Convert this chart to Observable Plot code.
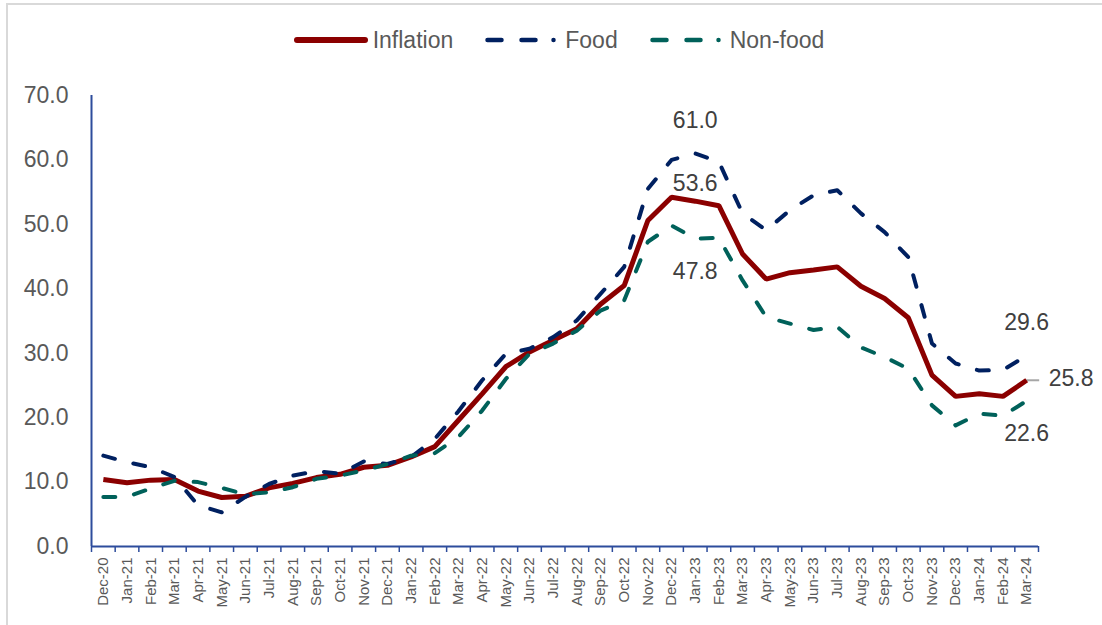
<!DOCTYPE html>
<html>
<head>
<meta charset="utf-8">
<script src="https://cdn.jsdelivr.net/npm/d3@7"></script>
<script src="https://cdn.jsdelivr.net/npm/@observablehq/plot@0.6"></script>
<style>
  html, body { margin: 0; padding: 0; background: #fff; }
  #page { position: relative; width: 1102px; height: 625px; overflow: hidden; background: #fff;
          font-family: "Liberation Sans", Arial, sans-serif; }
  #frame { position: absolute; left: 6px; top: 3px; right: -4px; bottom: -4px;
           border-left: 2px solid #d9d9d9; border-top: 2px solid #d9d9d9; }
  #legend { position: absolute; left: 0; top: 0; width: 1102px; height: 80px; box-sizing: border-box;
            padding-left: 16px; display: flex; align-items: center; justify-content: center;
            font-size: 23px; color: #595959; }
  #legend svg { display: block; }
  #chart { position: absolute; left: 0; top: 75px; }
</style>
</head>
<body>
<div id="page">
  <div id="frame"></div>
  <div id="legend"></div>
  <div id="chart"></div>
</div>
<script>
// ---- data ----
const months = ["Dec-20","Jan-21","Feb-21","Mar-21","Apr-21","May-21","Jun-21","Jul-21","Aug-21","Sep-21",
  "Oct-21","Nov-21","Dec-21","Jan-22","Feb-22","Mar-22","Apr-22","May-22","Jun-22","Jul-22",
  "Aug-22","Sep-22","Oct-22","Nov-22","Dec-22","Jan-23","Feb-23","Mar-23","Apr-23","May-23",
  "Jun-23","Jul-23","Aug-23","Sep-23","Oct-23","Nov-23","Dec-23","Jan-24","Feb-24","Mar-24"];
const inflation = [10.4, 9.9, 10.3, 10.4, 8.6, 7.6, 7.8, 9.1, 9.8, 10.7,
  11.2, 12.3, 12.6, 13.9, 15.5, 19.6, 23.7, 27.9, 30.2, 32.0,
  33.8, 37.6, 40.5, 50.6, 54.2, 53.6, 52.9, 45.4, 41.5, 42.5,
  42.9, 43.4, 40.4, 38.5, 35.5, 26.6, 23.3, 23.7, 23.3, 25.8];
const food = [14.1, 13.1, 12.3, 10.8, 6.4, 5.3, 7.7, 9.7, 11.0, 11.7,
  11.3, 13.2, 12.8, 13.9, 16.7, 21.0, 25.8, 29.9, 30.7, 32.5,
  35.1, 39.2, 43.4, 55.5, 60.0, 61.0, 59.7, 51.7, 49.1, 52.2,
  54.5, 55.3, 51.7, 48.8, 44.9, 31.5, 28.4, 27.3, 27.4, 29.6];
const nonFood = [7.7, 7.7, 9.0, 10.2, 10.0, 9.1, 8.1, 8.4, 9.2, 10.5,
  11.0, 11.8, 12.8, 14.1, 14.5, 17.0, 21.1, 26.0, 29.9, 31.5,
  33.5, 36.6, 38.2, 47.3, 49.8, 47.8, 47.9, 41.3, 35.6, 34.6,
  33.6, 34.1, 30.9, 29.4, 27.6, 21.9, 18.8, 20.6, 20.3, 22.6];
const seriesNames = ["Inflation", "Food", "Non-food"];
const yTicks = [0, 10, 20, 30, 40, 50, 60, 70];
// data labels: [series, month]
const labelsAbove = [["Food", "Jan-23"], ["Food", "Mar-24"]];
const labelsMid = [["Inflation", "Jan-23"]];
const labelsBelow = [["Non-food", "Jan-23"], ["Non-food", "Mar-24"]];
const labelsRight = [["Inflation", "Mar-24"]];

// ---- styles ----
const colors = { "Inflation": "#8B0000", "Food": "#002060", "Non-food": "#00615A" };
const axisBlue = "#2D4C9C";
const textGray = "#595959";
const labelGray = "#404040";

const values = { "Inflation": inflation, "Food": food, "Non-food": nonFood };
const seriesRows = name => months.map((m, i) => ({ series: name, i, month: m, value: values[name][i] }));
const pick = list => list.map(([s, m]) => {
  const i = months.indexOf(m);
  return { series: s, i, value: values[s][i], text: values[s][i].toFixed(1) };
});

const boundaries = d3.range(months.length + 1).map(k => k - 0.5);
const centers = months.map((m, i) => i);

const chart = Plot.plot({
  width: 1102,
  height: 550,
  marginLeft: 91,
  marginRight: 64,
  marginTop: 20,
  marginBottom: 79,
  style: { fontFamily: '"Liberation Sans", Arial, sans-serif', color: textGray, background: "transparent", overflow: "visible" },
  x: { domain: [-0.5, months.length - 0.5], label: null },
  y: { domain: [0, 70], label: null },
  marks: [
    Plot.axisY({ ticks: yTicks, tickFormat: d => d.toFixed(1), tickSize: 0, tickPadding: 23, fontSize: 23, fill: textGray, label: null }),
    Plot.axisX({ ticks: boundaries, tickSize: 6, tickFormat: () => "", stroke: axisBlue, strokeWidth: 1.5, label: null }),
    Plot.axisX({ ticks: centers, tickSize: 0, tickPadding: 11, tickRotate: -90, tickFormat: i => months[i], fontSize: 15, fill: textGray, label: null }),
    Plot.ruleY([0], { stroke: axisBlue, strokeWidth: 2 }),
    Plot.ruleX([-0.5], { stroke: axisBlue, strokeWidth: 2 }),
    Plot.ruleY(pick(labelsRight), { y: "value", x1: d => d.i, x2: d => d.i + 0.55, stroke: "#A6A6A6", strokeWidth: 2 }),
    Plot.line(seriesRows("Inflation"), { x: "i", y: "value", stroke: colors["Inflation"], strokeWidth: 5, strokeLinejoin: "miter", strokeLinecap: "butt" }),
    Plot.line(seriesRows("Food"), { x: "i", y: "value", stroke: colors["Food"], strokeWidth: 4, strokeDasharray: "12,19", strokeLinecap: "round", strokeLinejoin: "round" }),
    Plot.line(seriesRows("Non-food"), { x: "i", y: "value", stroke: colors["Non-food"], strokeWidth: 4, strokeDasharray: "12,19", strokeLinecap: "round", strokeLinejoin: "round" }),
    Plot.text(pick(labelsAbove), { x: "i", y: "value", text: "text", dy: -33, fontSize: 23, fill: labelGray }),
    Plot.text(pick(labelsMid), { x: "i", y: "value", text: "text", dy: -18, fontSize: 23, fill: labelGray }),
    Plot.text(pick(labelsBelow), { x: "i", y: "value", text: "text", dy: 33, fontSize: 23, fill: labelGray }),
    Plot.text(pick(labelsRight), { x: "i", y: "value", text: "text", dx: 22, dy: -2, textAnchor: "start", fontSize: 23, fill: labelGray })
  ]
});
document.getElementById("chart").appendChild(chart);

// ---- legend ----
const legend = d3.select("#legend");
const swatch = (name) => {
  if (name === "Inflation") {
    const s = legend.append("svg").attr("width", 74).attr("height", 12);
    s.append("line").attr("x1", 3).attr("x2", 71).attr("y1", 6).attr("y2", 6)
      .attr("stroke", colors[name]).attr("stroke-width", 6).attr("stroke-linecap", "round");
    return s;
  }
  const s = legend.append("svg").attr("width", 72).attr("height", 12);
  s.append("line").attr("x1", 2.5).attr("x2", 71).attr("y1", 6).attr("y2", 6)
    .attr("stroke", colors[name]).attr("stroke-width", 4.5).attr("stroke-linecap", "round")
    .attr("stroke-dasharray", "14,20,14,18,0,99");
  return s;
};
seriesNames.forEach((name, k) => {
  swatch(name).style("margin-right", name === "Inflation" ? "5px" : "8px");
  legend.append("span").text(name).style("margin-right", k < seriesNames.length - 1 ? "32px" : "0px");
});
</script>
</body>
</html>
